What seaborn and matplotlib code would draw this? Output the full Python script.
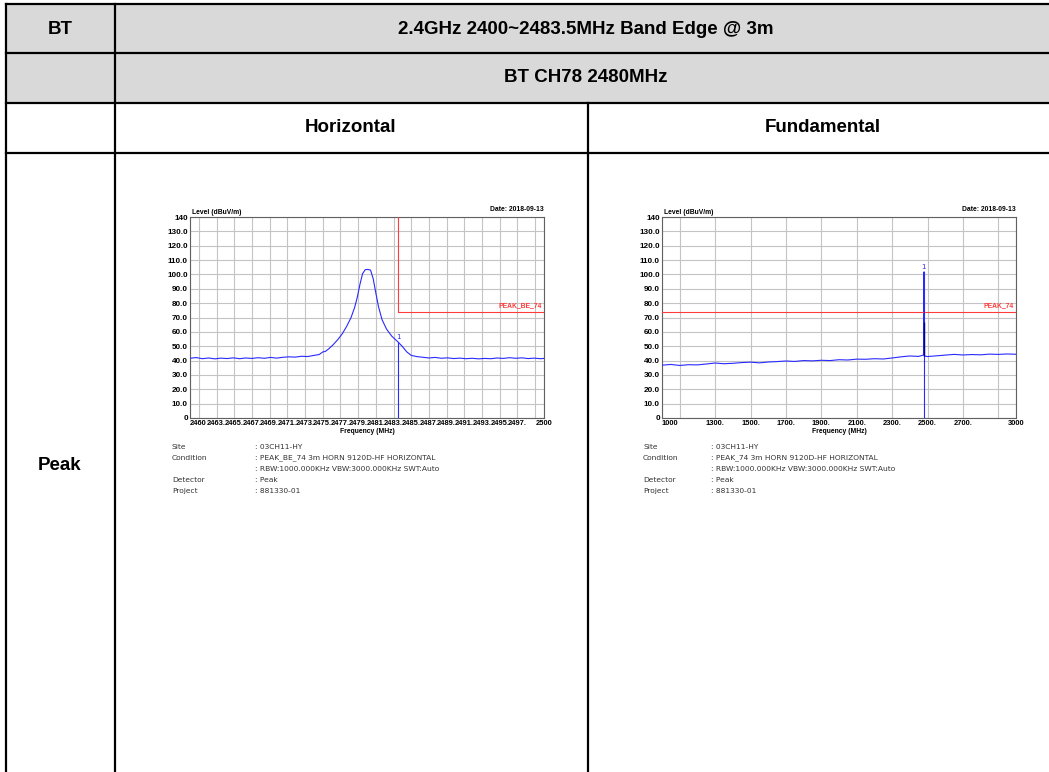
import matplotlib
matplotlib.use("Agg")
import matplotlib.pyplot as plt
import seaborn as sns
import pandas as pd
from matplotlib.lines import Line2D
from matplotlib.patches import Rectangle

# Dados
titulo_banda = "2.4GHz 2400~2483.5MHz Band Edge @ 3m"
titulo_canal = "BT CH78 2480MHz"
colunas = ["Horizontal", "Fundamental"]

# Gráfico 1: band edge (2460-2500 MHz)
h_freq = [2460.0, 2460.7, 2461.4, 2462.1, 2462.8, 2463.5, 2464.2, 2464.9, 2465.6, 2466.3,
          2467.0, 2467.7, 2468.4, 2469.1, 2469.8, 2470.5, 2471.2, 2471.9, 2472.6, 2473.3,
          2474.0, 2474.6, 2475.0, 2475.3, 2475.7, 2476.2, 2476.7, 2477.2, 2477.7, 2478.2,
          2478.6, 2478.9, 2479.2, 2479.5, 2479.8, 2480.1, 2480.4, 2480.7, 2481.0, 2481.3,
          2481.7, 2482.2, 2482.8, 2483.5, 2484.0, 2484.5, 2485.0, 2485.6, 2486.3, 2487.0,
          2487.7, 2488.4, 2489.1, 2489.8, 2490.5, 2491.2, 2491.9, 2492.6, 2493.3, 2494.0,
          2494.7, 2495.4, 2496.1, 2496.8, 2497.5, 2498.2, 2498.9, 2499.6, 2500.0]
h_level = [41.6, 42.1, 41.3, 41.8, 41.2, 41.7, 41.4, 41.9, 41.3, 41.8,
           41.5, 42.0, 41.6, 42.2, 41.7, 42.3, 42.6, 42.4, 43.0, 42.8,
           43.6, 44.2, 46.0, 46.4, 48.3, 51.2, 54.6, 58.6, 63.8, 70.0,
           77.0, 84.0, 93.0, 100.5, 103.3, 103.5, 103.0, 97.0, 87.0, 77.5,
           68.5, 62.0, 57.0, 53.0, 49.8, 46.0, 43.6, 42.8, 42.3, 41.8,
           42.2, 41.6, 41.9, 41.4, 41.7, 41.3, 41.6, 41.2, 41.5, 41.3,
           41.8, 41.5, 42.0, 41.6, 41.9, 41.4, 41.7, 41.3, 41.5]
h_marker_freq = 2483.5
h_marker_level = 53.0
h_limite_freq = 2483.5
h_xticks = [2460, 2461, 2463, 2465, 2467, 2469, 2471, 2473, 2475, 2477, 2479,
            2481, 2483, 2485, 2487, 2489, 2491, 2493, 2495, 2497, 2499, 2500]
h_xlabels = ["2460", "", "2463.", "2465.", "2467.", "2469.", "2471.", "2473.", "2475.",
             "2477.", "2479.", "2481.", "2483.", "2485.", "2487.", "2489.", "2491.",
             "2493.", "2495.", "2497.", "", "2500"]

# Gráfico 2: fundamental (1000-3000 MHz)
f_freq = [1000, 1050, 1100, 1150, 1200, 1250, 1300, 1350, 1400, 1450,
          1500, 1550, 1600, 1650, 1700, 1750, 1800, 1850, 1900, 1950,
          2000, 2050, 2100, 2150, 2200, 2250, 2300, 2350, 2400, 2450,
          2470, 2478, 2479, 2481, 2482, 2500, 2550, 2600, 2650, 2700,
          2750, 2800, 2850, 2900, 2950, 3000]
f_level = [36.8, 37.3, 36.6, 37.1, 37.0, 37.6, 38.3, 37.8, 38.1, 38.6,
           38.9, 38.4, 39.0, 39.3, 39.7, 39.4, 40.0, 39.8, 40.2, 40.0,
           40.6, 40.4, 41.0, 40.9, 41.3, 41.1, 41.8, 42.6, 43.2, 42.9,
           43.6, 44.0, 101.0, 101.8, 43.2, 42.8, 43.3, 43.8, 44.3, 43.9,
           44.2, 44.0, 44.5, 44.3, 44.6, 44.4]
f_marker_freq = 2480
f_marker_level = 101.8
f_media_level = 67.0
f_xticks = [1000, 1100, 1300, 1500, 1700, 1900, 2100, 2300, 2500, 2700, 2900, 3000]
f_xlabels = ["1000", "", "1300.", "1500.", "1700.", "1900.", "2100.", "2300.",
             "2500.", "2700.", "", "3000"]

limite = 74
yticks = list(range(0, 150, 10))
ylabels = ["0"] + [f"{v:.1f}" for v in range(10, 140, 10)] + ["140"]

info_rotulos = ["Site", "Condition", "", "Detector", "Project"]
info_h = [": 03CH11-HY", ": PEAK_BE_74 3m HORN 9120D-HF HORIZONTAL",
          ": RBW:1000.000KHz VBW:3000.000KHz SWT:Auto", ": Peak", ": 881330-01"]
info_f = [": 03CH11-HY", ": PEAK_74 3m HORN 9120D-HF HORIZONTAL",
          ": RBW:1000.000KHz VBW:3000.000KHz SWT:Auto", ": Peak", ": 881330-01"]

W, H = 1049, 772
AZUL = "#2a2aff"
VERMELHO = "#ff3b3b"
FONTE_GRAF = dict(family="Liberation Sans", fontweight="bold", fontsize=4.9)


def px(x, y):
    return x / W, 1 - y / H


def linha(fig, x0, y0, x1, y1, lw=1.6):
    a, b = px(x0, y0)
    c, d = px(x1, y1)
    fig.add_artist(Line2D([a, c], [b, d], color="black", lw=lw, solid_capstyle="projecting"))


def desenhar_tabela(fig):
    # fundo cinza das duas linhas de cabeçalho
    x0, y0 = px(6, 103)
    fig.add_artist(Rectangle((x0, y0), 1 - x0, (103 - 4) / H, color="#d9d9d9", lw=0, zorder=0))
    for y in [4, 53, 103, 153]:
        linha(fig, 6, y, W + 5, y)
    linha(fig, 6, 4, 6, H + 5)
    linha(fig, 115, 4, 115, H + 5)
    linha(fig, 588, 103, 588, H + 5)
    fonte = dict(family="Liberation Sans", weight="bold", fontsize=13.5,
                 ha="center", va="center", color="black")
    fig.text(*px(60, 29), "BT", **fonte)
    fig.text(*px(586, 29), titulo_banda, **fonte)
    fig.text(*px(586, 78), titulo_canal, **fonte)
    fig.text(*px(351, 128), colunas[0], **fonte)
    fig.text(*px(823, 128), colunas[1], **fonte)
    fig.text(*px(60, 465), "Peak", **fonte)


def desenhar_espectro(fig, esq, freq, level, xlim, xticks, xlabels):
    x0, y0 = px(esq, 418)
    ax = fig.add_axes([x0, y0, 354 / W, 201 / H])
    df = pd.DataFrame({"freq": freq, "level": level})
    sns.lineplot(data=df, x="freq", y="level", ax=ax, color=AZUL, lw=0.8, zorder=3)
    ax.set_xlim(*xlim)
    ax.set_ylim(0, 140)
    ax.set_xticks(xticks)
    ax.set_xticklabels(xlabels)
    ax.set_yticks(yticks)
    ax.set_yticklabels(ylabels)
    ax.tick_params(length=0, pad=1.5, labelcolor="black")
    for t in ax.get_xticklabels():
        t.set_fontfamily("Liberation Sans")
        t.set_fontweight("bold")
        t.set_fontsize(5.4)
    ax.get_xticklabels()[0].set_ha("left")
    for t in ax.get_yticklabels():
        t.set_fontfamily("Liberation Sans")
        t.set_fontweight("bold")
        t.set_fontsize(5.9)
    ax.grid(True, color="#c4c4c4", lw=0.8)
    ax.set_axisbelow(True)
    for s in ax.spines.values():
        s.set_color("#606060")
        s.set_linewidth(0.8)
    ax.set_xlabel("Frequency (MHz)", labelpad=0.5, color="black", **FONTE_GRAF)
    ax.set_ylabel("")
    ax.text(0.005, 1.005, "Level (dBuV/m)", transform=ax.transAxes,
            va="bottom", color="black", **FONTE_GRAF)
    ax.text(1.0, 1.02, "Date: 2018-09-13", transform=ax.transAxes,
            va="bottom", ha="right", color="black", **FONTE_GRAF)
    return ax


def desenhar_info(fig, xr, xv, valores):
    for i, (r, v) in enumerate(zip(info_rotulos, valores)):
        y = 447 + 11 * i
        fig.text(*px(xr, y), r, fontsize=5.4, color="#333333", va="center")
        fig.text(*px(xv, y), v, fontsize=5.4, color="#333333", va="center")


def main():
    sns.set_style("white")
    plt.rcParams["font.family"] = ["DejaVu Sans"]
    plt.rcParams["text.color"] = "black"
    fig = plt.figure(figsize=(W / 100, H / 100), dpi=100)
    desenhar_tabela(fig)

    ax1 = desenhar_espectro(fig, 190, h_freq, h_level, (2460, 2500), h_xticks, h_xlabels)
    ax1.plot([h_limite_freq, h_limite_freq], [limite, 140], color=VERMELHO, lw=0.8, zorder=4)
    ax1.plot([h_limite_freq, 2500], [limite, limite], color=VERMELHO, lw=0.8, zorder=4)
    ax1.text(2499.7, limite + 1.5, "PEAK_BE_74", color=VERMELHO,
             ha="right", va="bottom", **FONTE_GRAF)
    ax1.vlines(h_marker_freq, 0, h_marker_level, color=AZUL, lw=0.8, zorder=4)
    ax1.text(h_marker_freq, h_marker_level + 1, "1", color=AZUL, fontsize=5,
             ha="center", va="bottom")

    ax2 = desenhar_espectro(fig, 662, f_freq, f_level, (1000, 3000), f_xticks, f_xlabels)
    ax2.axhline(limite, color=VERMELHO, lw=0.8, zorder=4)
    ax2.text(2985, limite + 1.5, "PEAK_74", color=VERMELHO,
             ha="right", va="bottom", **FONTE_GRAF)
    ax2.vlines(f_marker_freq, 0, f_marker_level, color=AZUL, lw=0.8, zorder=4)
    ax2.vlines(f_marker_freq, 43, f_media_level, color="#000080", lw=1.0, zorder=5)
    ax2.text(f_marker_freq, f_marker_level + 1.5, "1", color=AZUL, fontsize=5,
             ha="center", va="bottom")

    desenhar_info(fig, 172, 255, info_h)
    desenhar_info(fig, 643, 711, info_f)

    fig.savefig("out.png", dpi=100)


if __name__ == "__main__":
    main()
